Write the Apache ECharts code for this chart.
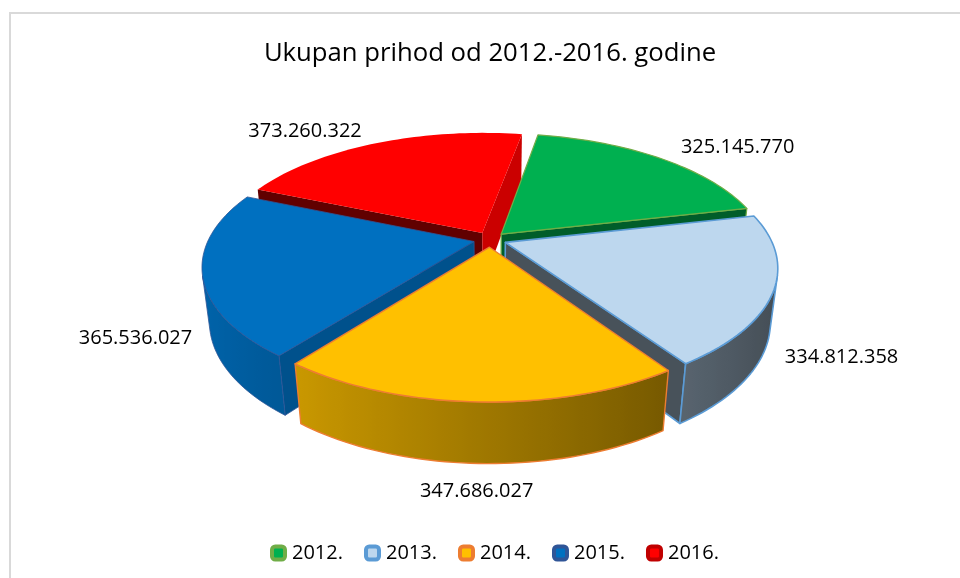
<!DOCTYPE html>
<html>
<head>
<meta charset="utf-8">
<title>Ukupan prihod</title>
<script src="https://cdn.jsdelivr.net/npm/echarts@6/dist/echarts.min.js"></script>
<style>
  html, body { margin: 0; padding: 0; background: #fff; }
  #main { width: 960px; height: 578px; }
</style>
</head>
<body>
<div id="main"></div>
<script>
// podaci
const years = ['2012.', '2013.', '2014.', '2015.', '2016.'];
const incomes = [325145770, 334812358, 347686027, 365536027, 373260322];

// boje
const topColors = ['#00b050', '#bdd7ee', '#ffc000', '#0070c0', '#ff0000'];
const borderColors = ['#70ad47', '#5b9bd5', '#ed7d31', '#2f5597', '#c00000'];
const borderWidths = [1.2, 1.6, 1.4, 0.8, 0];

const FONT = '"Open Sans", "Noto Sans", sans-serif';

// 3D pogled
const view = { cx: 490, cy: 293, r: 259, h: 60, tilt: 29.8, dist: 1200, explode: 16, rotate: 10 };

const total = incomes.reduce((a, b) => a + b, 0);
const rad = d => d * Math.PI / 180;
const sinT = Math.sin(rad(view.tilt)), cosT = Math.cos(rad(view.tilt));

function project(x, y, z) {
  const depth = z * cosT - y * sinT;
  const s = view.dist / (view.dist + depth);
  return [view.cx + x * s, view.cy - (z * sinT + y * cosT) * s];
}

function shade(hex, f) {
  const n = parseInt(hex.slice(1), 16);
  const c = [(n >> 16) & 255, (n >> 8) & 255, n & 255].map(v => Math.min(255, Math.round(v * f)));
  return 'rgb(' + c.join(',') + ')';
}

function fmt(v) {
  return String(v).replace(/\B(?=(\d{3})+(?!\d))/g, '.');
}

function area(pts) {
  let s = 0;
  for (let i = 0; i < pts.length; i++) {
    const a = pts[i], b = pts[(i + 1) % pts.length];
    s += a[0] * b[1] - b[0] * a[1];
  }
  return s / 2;
}

function sliceAngles(i) {
  let before = 0;
  for (let k = 0; k < i; k++) before += incomes[k];
  const a0 = view.rotate + 360 * before / total;
  return [a0, a0 + 360 * incomes[i] / total];
}

// osvjetljenje stranica
const outerShade = n => 0.62 - 0.28 * Math.sin(rad(n));
const radialShade = n => Math.max(0.38, 0.45 + 0.35 * Math.sin(rad(n)));

function poly(points, fill, stroke, lw) {
  return {
    type: 'polygon',
    shape: { points: points },
    style: { fill: fill, stroke: lw > 0 ? stroke : null, lineWidth: lw, lineJoin: 'round' }
  };
}

function renderSlice(i) {
  return function () {
    const [a0, a1] = sliceAngles(i);
    const mid = (a0 + a1) / 2;
    const ox = view.explode * Math.sin(rad(mid));
    const oz = view.explode * Math.cos(rad(mid));
    const pt = (a, r, y) => project(ox + r * Math.sin(rad(a)), y, oz + r * Math.cos(rad(a)));
    const r = view.r, h = view.h;
    const base = topColors[i], bc = borderColors[i], bw = borderWidths[i];
    const children = [];

    // bocne (radijalne) stranice
    const cTop = pt(0, 0, h), cBot = pt(0, 0, 0);
    const startWall = [cTop, pt(a0, r, h), pt(a0, r, 0), cBot];
    const endWall = [cTop, cBot, pt(a1, r, 0), pt(a1, r, h)];
    [[startWall, a0 - 90], [endWall, a1 + 90]].forEach(function (w) {
      if (area(w[0]) < 0) children.push(poly(w[0], shade(base, radialShade(w[1])), bc, bw));
    });

    // vanjski plast - jedan poligon s gradijentom
    const steps = Math.ceil((a1 - a0) / 1.5);
    const ang = k => a0 + (a1 - a0) * k / steps;
    const vis = [];
    for (let k = 0; k < steps; k++) {
      const q = [pt(ang(k), r, h), pt(ang(k + 1), r, h), pt(ang(k + 1), r, 0), pt(ang(k), r, 0)];
      if (area(q) < 0) vis.push(k);
    }
    if (vis.length) {
      const k0 = vis[0], k1 = vis[vis.length - 1] + 1;
      const outline = [];
      for (let k = k0; k <= k1; k++) outline.push(pt(ang(k), r, h));
      for (let k = k1; k >= k0; k--) outline.push(pt(ang(k), r, 0));
      const xs = outline.map(p => p[0]);
      const minX = Math.min.apply(null, xs), maxX = Math.max.apply(null, xs);
      const stops = [];
      for (let k = k0; k <= k1; k++) {
        const p = pt(ang(k), r, h);
        stops.push({ offset: (p[0] - minX) / Math.max(1, maxX - minX), color: shade(base, outerShade(ang(k))) });
      }
      stops.sort((p, q) => p.offset - q.offset);
      children.push({
        type: 'polygon',
        shape: { points: outline },
        style: {
          fill: new echarts.graphic.LinearGradient(0, 0, 1, 0, stops),
          stroke: bw > 0 ? bc : null,
          lineWidth: bw,
          lineJoin: 'round'
        }
      });
    }

    // gornja ploha
    const topPts = [cTop];
    for (let k = 0; k <= steps; k++) topPts.push(pt(ang(k), r, h));
    children.push(poly(topPts, base, bc, bw));

    // oznaka vrijednosti
    const sm = Math.sin(rad(mid)), cm = Math.cos(rad(mid));
    const kDist = cm > 0 ? 1.16 : 1.16 - 0.1 * Math.abs(sm);
    const lp = pt(mid, r * kDist, cm > 0 ? h : 0);
    const align = Math.abs(sm) < 0.3 ? 'center' : (sm > 0 ? 'left' : 'right');
    const dy = cm > 0 ? 0 : 12 * Math.abs(sm) - 5;
    children.push({
      type: 'text',
      style: {
        text: fmt(incomes[i]),
        x: lp[0], y: lp[1] + dy,
        align: align, verticalAlign: 'middle',
        textAlign: align, textVerticalAlign: 'middle',
        fill: '#000',
        font: '20px ' + FONT
      }
    });

    return { type: 'group', children: children };
  };
}

// redoslijed crtanja: straznje kriske prvo
const depthRank = years.map((y, i) => {
  const a = sliceAngles(i);
  return { i: i, c: Math.cos(rad((a[0] + a[1]) / 2)) };
}).sort((p, q) => q.c - p.c).map(o => o.i);

const chart = echarts.init(document.getElementById('main'), null, { renderer: 'canvas' });

chart.setOption({
  backgroundColor: '#fff',
  animation: false,
  title: {
    text: 'Ukupan prihod od 2012.-2016. godine',
    left: 485,
    top: 36,
    textAlign: 'center',
    textStyle: { fontFamily: FONT, fontSize: 25.7, fontWeight: 'normal', color: '#000' }
  },
  legend: {
    data: years.map((y, i) => ({
      name: y,
      icon: 'roundRect',
      itemStyle: { color: topColors[i], borderColor: borderColors[i], borderWidth: 4 }
    })),
    left: 265,
    top: 538,
    itemWidth: 13,
    itemHeight: 13,
    itemGap: 21,
    selectedMode: false,
    textStyle: { fontFamily: FONT, fontSize: 20, color: '#000', padding: [0, 0, 0, 2] }
  },
  graphic: [{
    type: 'rect',
    shape: { x: 10, y: 13, width: 1000, height: 700 },
    style: { fill: null, stroke: '#d9d9d9', lineWidth: 2 },
    silent: true,
    z: -10
  }],
  series: years.map((y, i) => ({
    type: 'custom',
    name: y,
    coordinateSystem: 'none',
    silent: true,
    z: 2 + depthRank.indexOf(i),
    itemStyle: { color: topColors[i] },
    data: [incomes[i]],
    renderItem: renderSlice(i)
  }))
});
</script>
</body>
</html>
